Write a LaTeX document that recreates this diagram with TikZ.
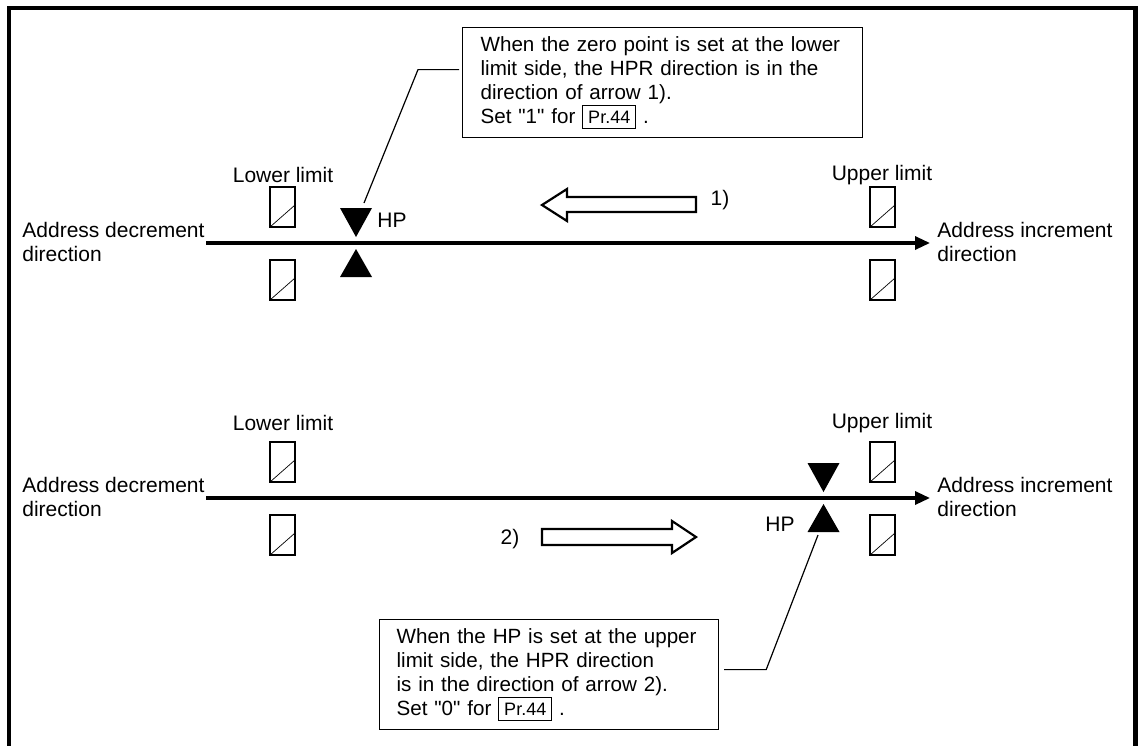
\documentclass[tikz,border=0pt]{standalone}
\usepackage{fontspec}
\setmainfont{Liberation Sans}
\usetikzlibrary{arrows.meta}

\newcommand{\parambox}[1]{{\setlength{\fboxsep}{2.5pt}\setlength{\fboxrule}{0.5pt}\fbox{\fontsize{9}{10}\selectfont #1}}}

\begin{document}
\begin{tikzpicture}[
        x=0.5pt, y=-0.5pt,
        every node/.style={font=\fontsize{10.5}{12}\selectfont},
        limitbox/.style={
            draw,
            line width=1pt,
            minimum width=12.5pt,
            minimum height=20pt,
            inner sep=0pt,
            path picture={\draw[line width=0.35pt]
                (path picture bounding box.south west) --
                ([yshift=-9pt]path picture bounding box.north east);}
        },
        dirlabel/.style={align=left, inner sep=0pt, anchor=west},
        note/.style={draw, line width=0.6pt, align=left, anchor=north west,
            font=\fontsize{10.3}{12}\selectfont},
        axisline/.style={line width=1.6pt, -{Triangle[length=7.5pt,width=6.5pt]}},
        hollow/.style={line width=1.1pt, line join=miter},
        leader/.style={line width=0.6pt}
    ]
        \useasboundingbox (0,0) rectangle (1140,745);
        % Outer frame, open at the bottom
        \draw[line width=2.2pt] (9,760) -- (9,8) -- (1135.5,8) -- (1135.5,760);

        % The two axes with their limit switches (upper half, lower half)
        \foreach \dy/\ly [count=\k] in {0/175, 255/423} {
            \node[dirlabel] (dec\k) at (22,{241.5+\dy}) {Address decrement\\direction};
            \node[dirlabel] (inc\k) at (937,{241.5+\dy}) {Address increment\\direction};
            \coordinate (axs\k) at (206,{243+\dy});
            \coordinate (axe\k) at (930,{243+\dy});
            \draw[axisline] (axs\k) -- (axe\k);

            \node (lowlbl\k) at (283,\ly) {Lower limit};
            \node (uplbl\k) at (882,\ly) {Upper limit};
            \node[limitbox] (lowa\k) at (282.5,{207+\dy}) {};
            \node[limitbox] (lowb\k) at (282.5,{280+\dy}) {};
            \node[limitbox] (upa\k) at (882.5,{207+\dy}) {};
            \node[limitbox] (upb\k) at (882.5,{280+\dy}) {};
        }

        % HP marks
        \foreach \hx/\dy in {356/0, 823.5/255} {
            \fill ({\hx-16},{208+\dy}) -- ({\hx+16},{208+\dy}) -- (\hx,{237+\dy}) -- cycle;
            \fill (\hx,{249+\dy}) -- ({\hx+16},{277+\dy}) -- ({\hx-16},{277+\dy}) -- cycle;
        }
        \node[anchor=west, inner sep=0pt] (hplbl1) at (377,220) {HP};
        \node (hplbl2) at (780,524) {HP};
        \coordinate (hptip1) at (364,203);
        \coordinate (hptip2) at (818,535);

        % Hollow direction arrows
        \draw[hollow] (542,205) -- (567,189) -- (567,197) -- (696,197) -- (696,212)
            -- (567,212) -- (567,221) -- cycle;
        \node (num1) at (720,200) {1)};
        \draw[hollow] (542,529) -- (672,529) -- (672,521) -- (696,537) -- (672,553)
            -- (672,545) -- (542,545) -- cycle;
        \node (num2) at (510,539) {2)};

        % Callouts
        \node[note, text width=182pt, inner xsep=9pt, minimum height=55pt] (note1) at (462,27) {%
            When the zero point is set at the lower\\
            limit side, the HPR direction is in the\\
            direction of arrow 1).\\
            Set \textquotedbl 1\textquotedbl{} for \parambox{Pr.44} .};
        \draw[leader] ([xshift=-1.5pt,yshift=6.5pt]note1.west) -- ++(-41,0) -- (hptip1);

        \node[note, text width=152.5pt, inner xsep=8.5pt, minimum height=55pt] (note2) at (379,619) {%
            When the HP is set at the upper\\
            limit side, the HPR direction\\
            is in the direction of arrow 2).\\
            Set \textquotedbl 0\textquotedbl{} for \parambox{Pr.44} .};
        \draw[leader] ([xshift=2.5pt,yshift=2.5pt]note2.east) -- ++(42,0) -- (hptip2);
    \end{tikzpicture}
\end{document}
